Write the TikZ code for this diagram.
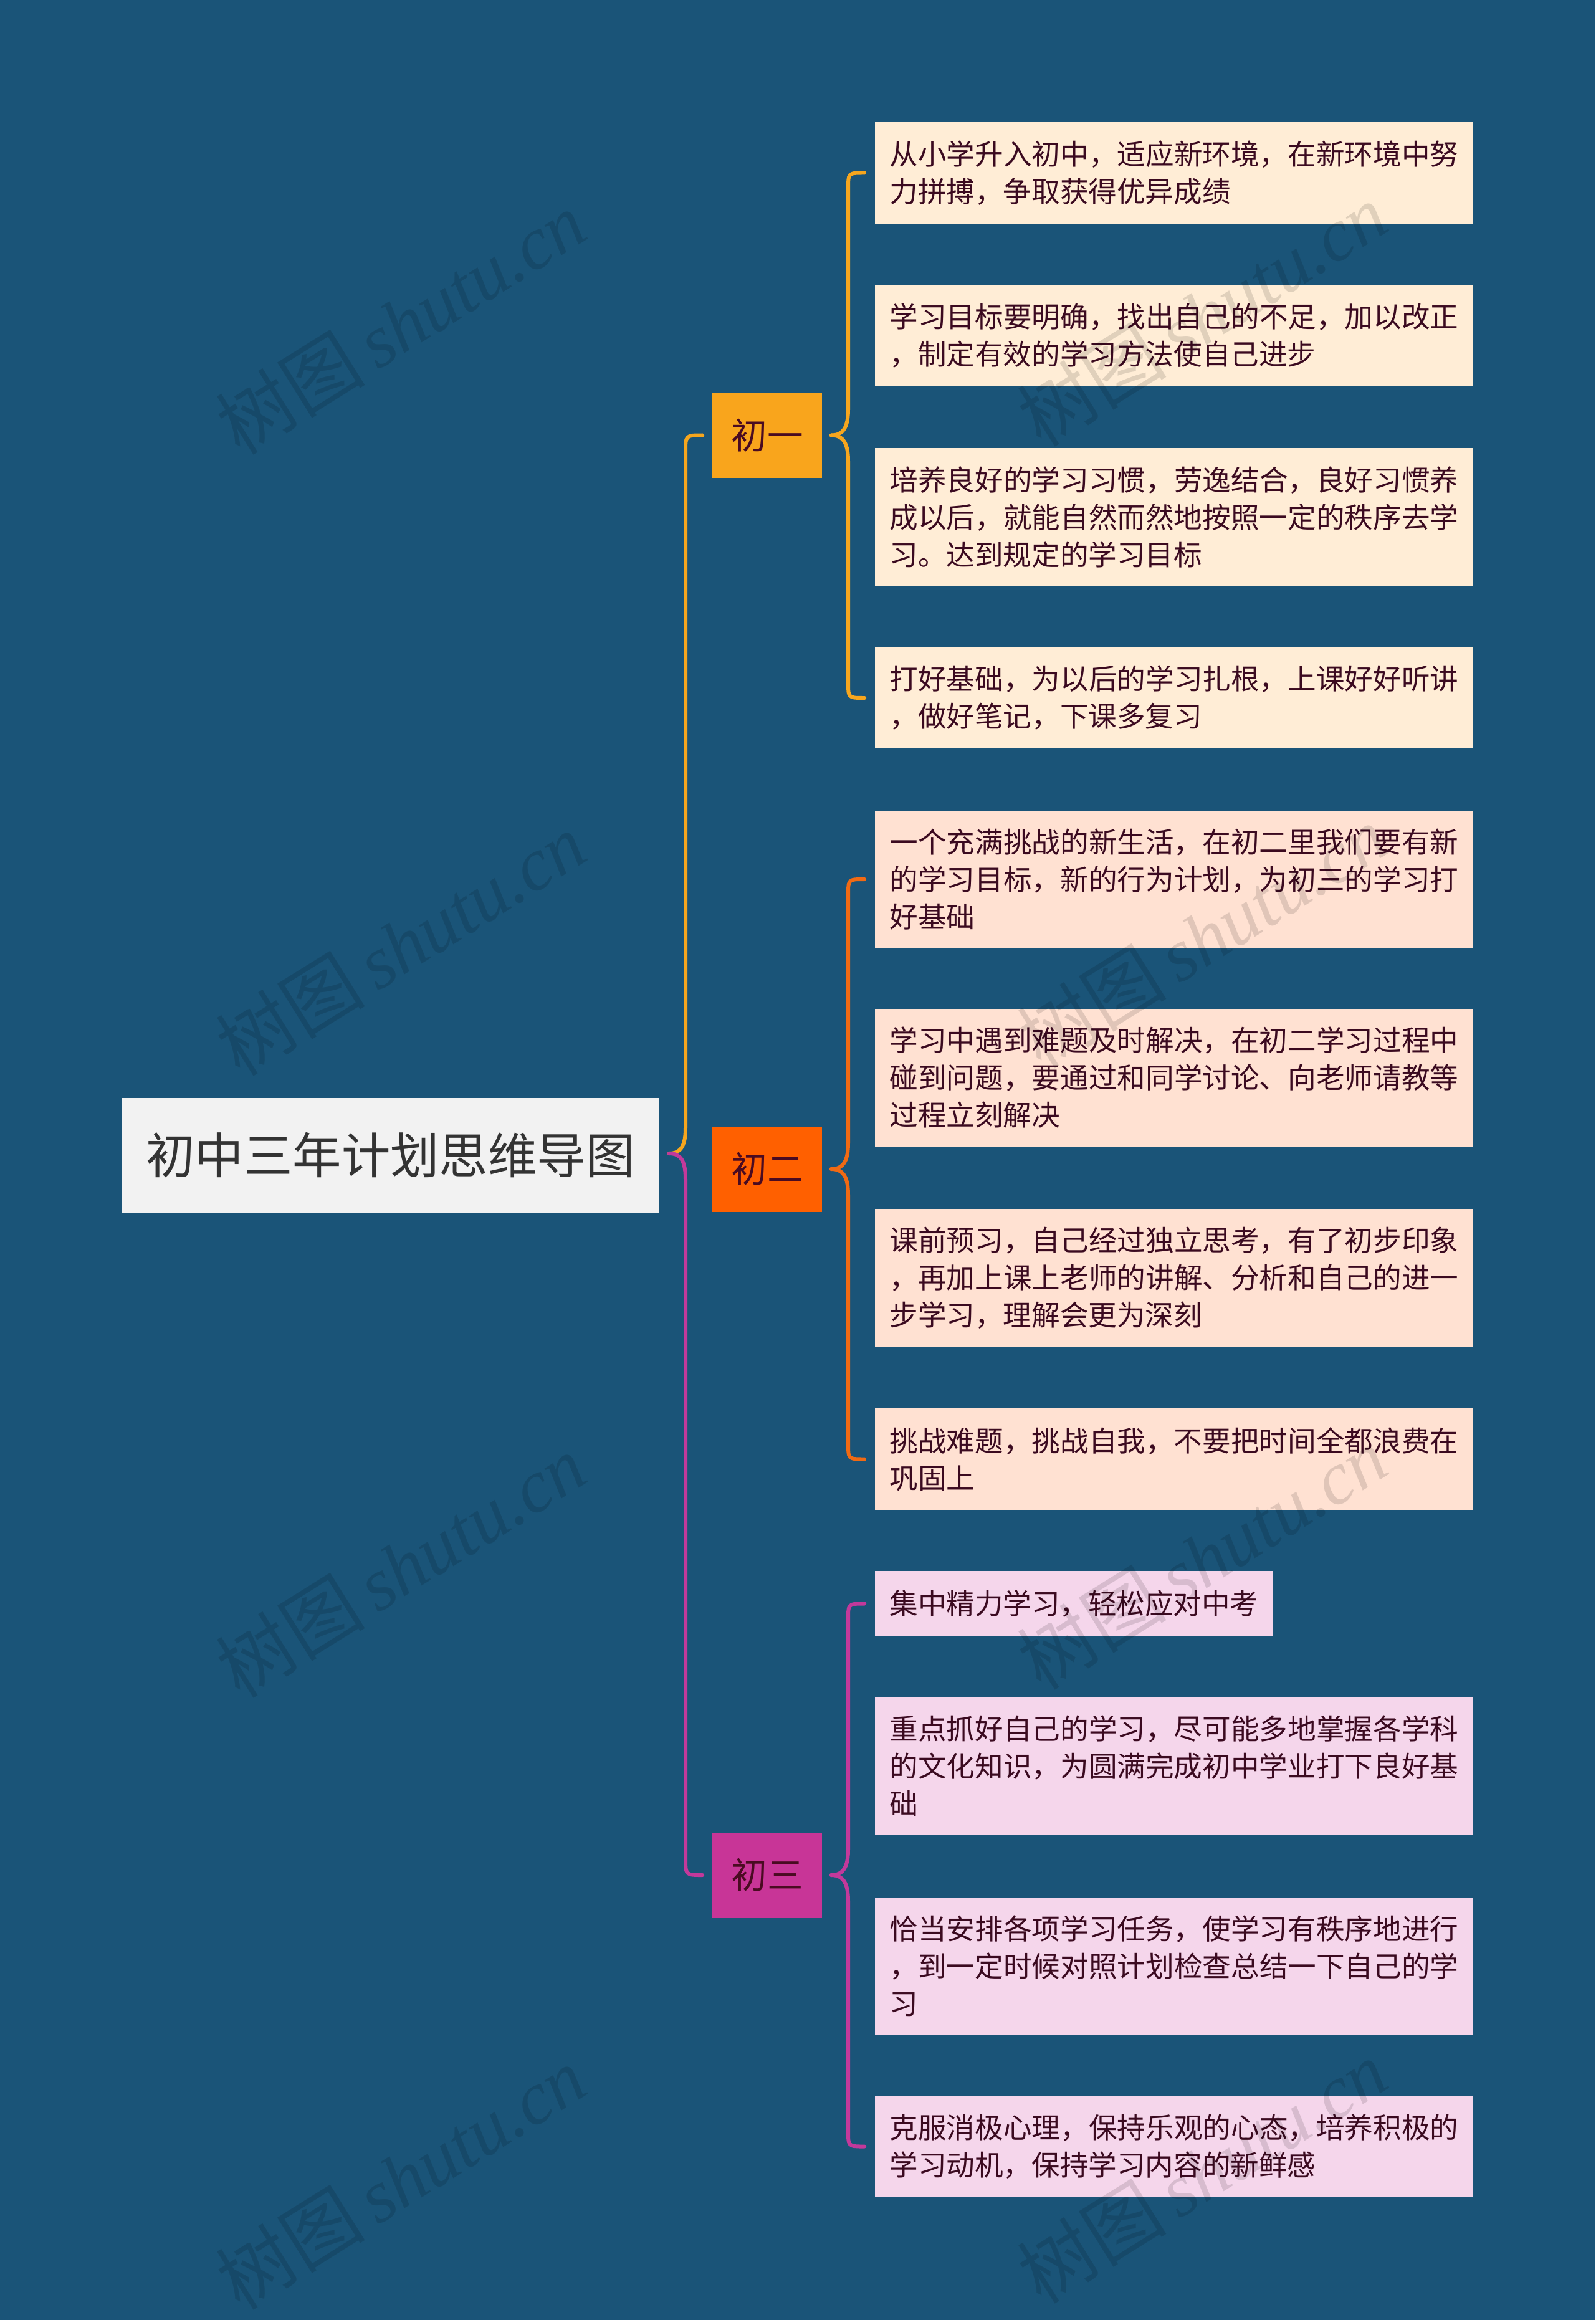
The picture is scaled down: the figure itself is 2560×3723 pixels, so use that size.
\documentclass[tikz,border=0pt]{standalone}
\usepackage{fontspec}
\newfontfamily\cjk{Noto Sans CJK SC}
\newfontfamily\wmlatin{Liberation Serif}
\XeTeXlinebreaklocale "zh"
\XeTeXlinebreakskip=0pt plus 2pt minus 1pt
\usetikzlibrary{calc}
\definecolor{bg}{RGB}{26,84,120}
\definecolor{rootfill}{RGB}{242,242,242}
\definecolor{roottext}{RGB}{51,51,51}
\definecolor{oneC}{RGB}{249,165,28}
\definecolor{twoC}{RGB}{255,96,0}
\definecolor{threeC}{RGB}{200,53,151}
\definecolor{oneLine}{RGB}{246,166,30}
\definecolor{twoLine}{RGB}{240,106,20}
\definecolor{threeLine}{RGB}{195,57,155}
\definecolor{oneLeaf}{RGB}{255,237,214}
\definecolor{twoLeaf}{RGB}{255,225,210}
\definecolor{threeLeaf}{RGB}{245,214,235}
\definecolor{leaftext}{RGB}{59,10,32}
\definecolor{brtext}{RGB}{74,11,34}
\begin{document}
\begin{tikzpicture}[x=0.25pt,y=-0.25pt,
  rootbox/.style={rectangle, fill=rootfill, text=roottext, minimum width=215.75pt,
    minimum height=46pt, inner sep=0pt, font=\cjk\fontsize{19.6pt}{24pt}\selectfont},
  branchbox/.style={rectangle, minimum width=44pt, minimum height=34.25pt, inner sep=0pt,
    text=brtext, font=\cjk\fontsize{14.4pt}{17pt}\selectfont},
  leafbox/.style={rectangle, text=leaftext, text width=228.25pt, inner xsep=5.875pt,
    inner ysep=0pt, align=justify, font=\cjk\fontsize{11.4pt}{15pt}\selectfont},
  htwo/.style={minimum height=40.6pt},
  hthree/.style={minimum height=55.25pt},
  link/.style={line width=1.5pt, line cap=round},
  wm/.style={rotate=32, text=black, opacity=0.12, inner sep=0pt}
]
\useasboundingbox (0,0) rectangle (2560,3723);
\fill[bg] (0,0) rectangle (2560,3723);

% root and branches
\node[rootbox] (root) at (626.5,1854) {初中三年计划思维导图};
\node[branchbox, fill=oneC] (b1) at (1231,698.5) {初一};
\node[branchbox, fill=twoC] (b2) at (1231,1876) {初二};
\node[branchbox, fill=threeC] (b3) at (1231,3009) {初三};

% leaves of 初一
\node[leafbox, fill=oneLeaf, htwo] (l1) at (1884,277.5) {从小学升入初中，适应新环境，在新环境中努\linebreak 力拼搏，争取获得优异成绩};
\node[leafbox, fill=oneLeaf, htwo] (l2) at (1884,539) {学习目标要明确，找出自己的不足，加以改正\linebreak ，制定有效的学习方法使自己进步};
\node[leafbox, fill=oneLeaf, hthree] (l3) at (1884,830) {培养良好的学习习惯，劳逸结合，良好习惯养\linebreak 成以后，就能自然而然地按照一定的秩序去学\linebreak 习。达到规定的学习目标};
\node[leafbox, fill=oneLeaf, htwo] (l4) at (1884,1120) {打好基础，为以后的学习扎根，上课好好听讲\linebreak ，做好笔记，下课多复习};

% leaves of 初二
\node[leafbox, fill=twoLeaf, hthree] (l5) at (1884,1411) {一个充满挑战的新生活，在初二里我们要有新\linebreak 的学习目标，新的行为计划，为初三的学习打\linebreak 好基础};
\node[leafbox, fill=twoLeaf, hthree] (l6) at (1884,1729.5) {学习中遇到难题及时解决，在初二学习过程中\linebreak 碰到问题，要通过和同学讨论、向老师请教等\linebreak 过程立刻解决};
\node[leafbox, fill=twoLeaf, hthree] (l7) at (1884,2050.5) {课前预习，自己经过独立思考，有了初步印象\linebreak ，再加上课上老师的讲解、分析和自己的进一\linebreak 步学习，理解会更为深刻};
\node[leafbox, fill=twoLeaf, htwo] (l8) at (1884,2341.5) {挑战难题，挑战自我，不要把时间全都浪费在\linebreak 巩固上};

% leaves of 初三
\node[leafbox, fill=threeLeaf, text width=148pt, minimum height=26.25pt] (l9) at (1723.5,2573.5) {集中精力学习，轻松应对中考};
\node[leafbox, fill=threeLeaf, hthree] (l10) at (1884,2834) {重点抓好自己的学习，尽可能多地掌握各学科\linebreak 的文化知识，为圆满完成初中学业打下良好基\linebreak 础};
\node[leafbox, fill=threeLeaf, hthree] (l11) at (1884,3155) {恰当安排各项学习任务，使学习有秩序地进行\linebreak ，到一定时候对照计划检查总结一下自己的学\linebreak 习};
\node[leafbox, fill=threeLeaf, htwo] (l12) at (1884,3444.5) {克服消极心理，保持乐观的心态，培养积极的\linebreak 学习动机，保持学习内容的新鲜感};

% connector end points
\coordinate (rootR) at ($(root.east)+(15,-3)$);
\coordinate (b1W) at ($(b1.west)+(-15,0)$);
\coordinate (b3W) at ($(b3.west)+(-15,0)$);
\coordinate (t1) at ($(b1.east)+(14,0)$);
\coordinate (t2) at ($(b2.east)+(14,0)$);
\coordinate (t3) at ($(b3.east)+(14,0)$);
\foreach \i in {1,4,5,8,9,12} {\coordinate (l\i W) at ($(l\i.west)+(-16,0)$);}

% root to branches
\draw[link, oneLine] (rootR) .. controls +(20,0) and +(0,28) .. (1100,1809)
  -- (1100,725.5) .. controls +(0,-27) and +(-27,0) .. (b1W);
\draw[link, threeLine] (rootR) .. controls +(20,0) and +(0,-28) .. (1100,1893)
  -- (1100,2982) .. controls +(0,27) and +(-27,0) .. (b3W);

% braces 初一
\draw[link, oneLine] (t1) .. controls +(20,0) and +(0,28) .. (1361,656.5)
  -- (1361,304.5) .. controls +(0,-27) and +(-27,0) .. (l1W);
\draw[link, oneLine] (t1) .. controls +(20,0) and +(0,-28) .. (1361,740.5)
  -- (1361,1093) .. controls +(0,27) and +(-27,0) .. (l4W);
% braces 初二
\draw[link, twoLine] (t2) .. controls +(20,0) and +(0,28) .. (1361,1834)
  -- (1361,1438) .. controls +(0,-27) and +(-27,0) .. (l5W);
\draw[link, twoLine] (t2) .. controls +(20,0) and +(0,-28) .. (1361,1918)
  -- (1361,2314.5) .. controls +(0,27) and +(-27,0) .. (l8W);
% braces 初三
\draw[link, threeLine] (t3) .. controls +(20,0) and +(0,28) .. (1361,2967)
  -- (1361,2600.5) .. controls +(0,-27) and +(-27,0) .. (l9W);
\draw[link, threeLine] (t3) .. controls +(20,0) and +(0,-28) .. (1361,3051)
  -- (1361,3417.5) .. controls +(0,27) and +(-27,0) .. (l12W);

% watermarks
\foreach \n/\x/\y in {w1/643/518, w2/643/1515, w3/643/2513, w4/643/3495,
                      w5/1929/505, w6/1929/1503, w7/1929/2500, w8/1929/3485} {
  \node[wm] (\n) at (\x,\y) {\fontsize{30pt}{34pt}\selectfont{\cjk 树图}\,{\wmlatin\itshape shutu.cn}};
}
\end{tikzpicture}
\end{document}
